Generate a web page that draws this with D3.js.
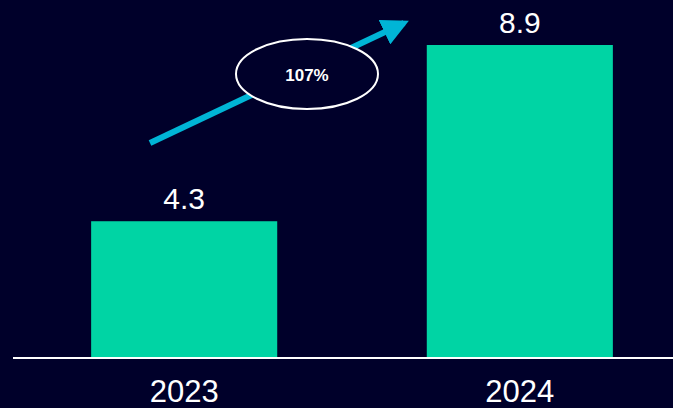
<!DOCTYPE html>
<html lang="en-US">
<head>
<meta charset="UTF-8">
<title>2023 vs 2024</title>
<script src="https://d3js.org/d3.v7.min.js"></script>
<style>
  html, body { margin: 0; padding: 0; background: #00002a; }
  svg { display: block; font-family: "Liberation Sans", Arial, sans-serif; }
  .bar { fill: #00d4a4; }
  .value { fill: #ffffff; font-size: 30px; text-anchor: middle; }
  .year { fill: #ffffff; font-size: 31px; text-anchor: middle; }
</style>
</head>
<body>
<script>

// data
var years = ["2023", "2024"];
var values = [4.3, 8.9];
var growthLabel = "107%";

var width = 673, height = 408;

var svg = d3.select("body").append("svg")
    .attr("width", width)
    .attr("height", height);

svg.append("rect")
    .attr("width", width)
    .attr("height", height)
    .attr("fill", "#00002a");

var x = d3.scaleBand()
    .domain(years)
    .range([22, 682])
    .paddingInner(0.4456)
    .paddingOuter(0.206);

// baseline of the picture sits a bit above zero
var y = d3.scaleLinear()
    .domain([0.73, 8.9])
    .range([358, 45]);

var data = years.map(function(d, i) { return {year: d, value: values[i]}; });

svg.selectAll(".bar")
    .data(data)
    .enter().append("rect")
    .attr("class", "bar")
    .attr("x", function(d) { return x(d.year); })
    .attr("width", x.bandwidth())
    .attr("y", function(d) { return y(d.value); })
    .attr("height", function(d) { return y.range()[0] - y(d.value); });

svg.selectAll(".value")
    .data(data)
    .enter().append("text")
    .attr("class", "value")
    .attr("x", function(d) { return x(d.year) + x.bandwidth() / 2; })
    .attr("y", function(d) { return y(d.value) - 12; })
    .text(function(d) { return d.value.toFixed(1); });

// x axis: plain white line with year labels underneath
var xAxis = svg.append("g")
    .attr("transform", "translate(0," + y.range()[0] + ")");

xAxis.append("line")
    .attr("x1", 13)
    .attr("x2", width)
    .attr("stroke", "#ffffff")
    .attr("stroke-width", 2);

xAxis.selectAll(".year")
    .data(years)
    .enter().append("text")
    .attr("class", "year")
    .attr("x", function(d) { return x(d) + x.bandwidth() / 2; })
    .attr("y", 44)
    .text(function(d) { return d; });

// growth arrow
svg.append("defs").append("marker")
    .attr("id", "head")
    .attr("viewBox", "0 0 10 10")
    .attr("refX", 8)
    .attr("refY", 5)
    .attr("markerWidth", 4.5)
    .attr("markerHeight", 4.5)
    .attr("markerUnits", "strokeWidth")
    .attr("orient", "auto")
    .append("path")
    .attr("d", "M0,0L10,5L0,10z")
    .attr("fill", "#00b5d6");

svg.append("line")
    .attr("x1", 150)
    .attr("y1", 143)
    .attr("x2", 404)
    .attr("y2", 23)
    .attr("stroke", "#00b5d6")
    .attr("stroke-width", 6)
    .attr("marker-end", "url(#head)");

svg.append("ellipse")
    .attr("cx", 307)
    .attr("cy", 74)
    .attr("rx", 71)
    .attr("ry", 35)
    .attr("fill", "#00002a")
    .attr("stroke", "#ffffff")
    .attr("stroke-width", 2);

svg.append("text")
    .attr("x", 307)
    .attr("y", 81)
    .attr("fill", "#ffffff")
    .attr("font-size", "17px")
    .attr("font-weight", "bold")
    .attr("text-anchor", "middle")
    .text(growthLabel);

</script>
</body>
</html>
